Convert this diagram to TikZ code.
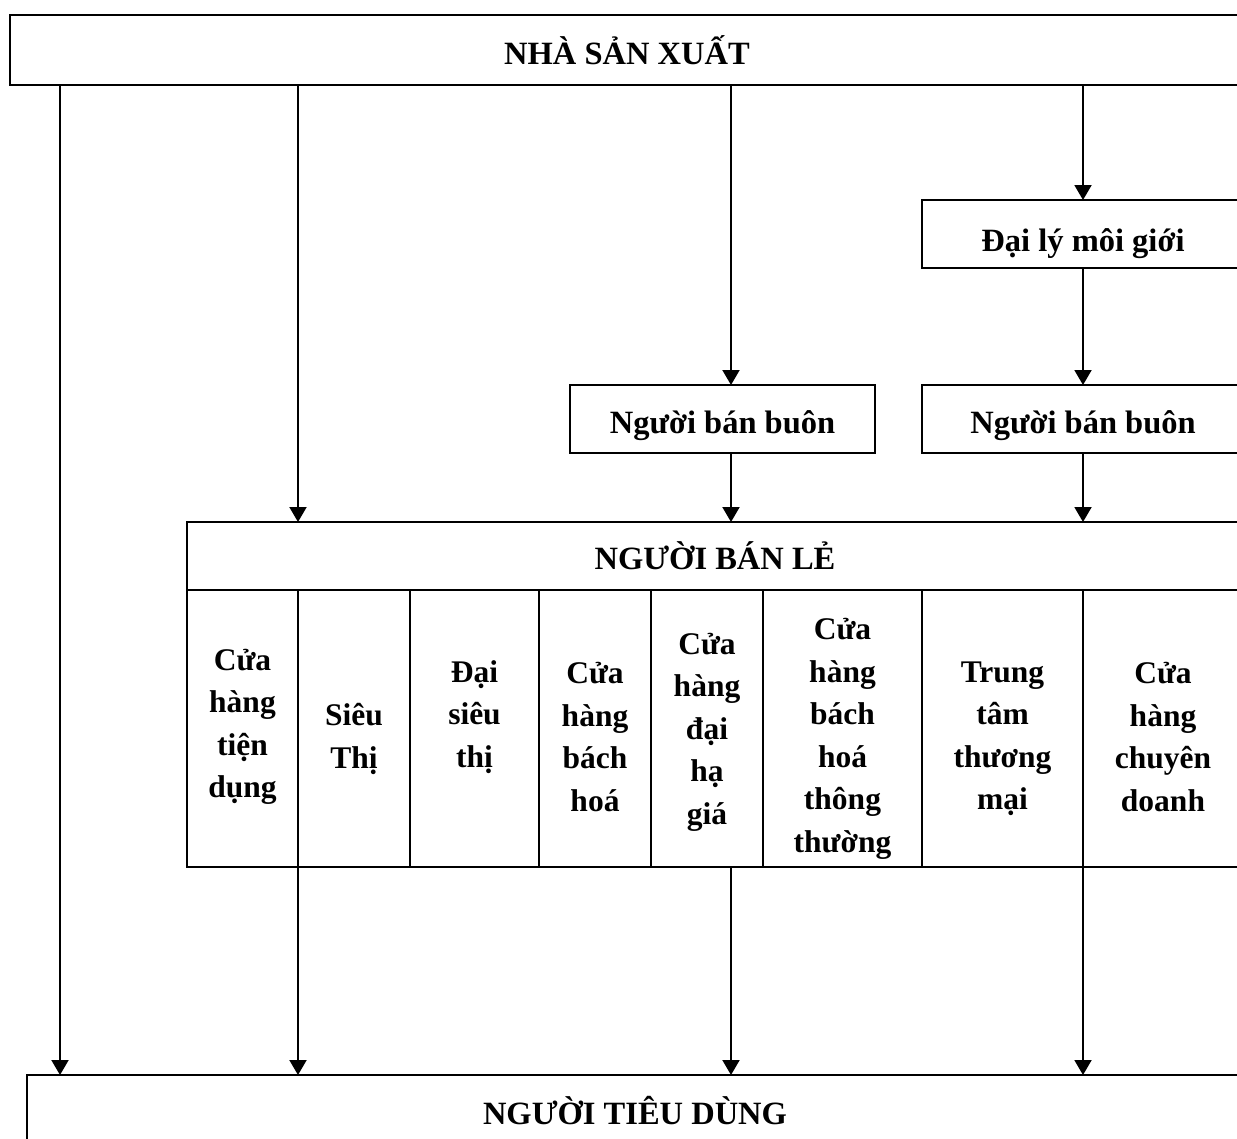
\documentclass[tikz,border=0pt]{standalone}
\usepackage{fontspec}
\setmainfont{Liberation Serif}
\usetikzlibrary{arrows.meta}
\begin{document}
\begin{tikzpicture}[x=1pt,y=-1pt,
  box/.style={draw, line width=2pt, anchor=north west, inner sep=0pt, outer sep=0pt,
    font=\fontsize{32.5}{42.5}\selectfont\bfseries},
  cellbox/.style={draw, line width=2pt, anchor=north west, inner sep=0pt, outer sep=0pt,
    minimum height=277pt},
  celltext/.style={inner sep=0pt, align=center, font=\fontsize{31.5}{42.5}\selectfont\bfseries},
  arr/.style={line width=2pt, -{Triangle[length=15pt,width=17pt]}}]
\useasboundingbox (0,0) rectangle (1237,1138);
\fill[white] (0,0) rectangle (1237,1138);
\clip (0,0) rectangle (1237,1138);
% boxes
\node[box, minimum width=1234pt, minimum height=70pt] (prod) at (10,15) {NHÀ SẢN XUẤT};
\node[box, minimum width=322pt, minimum height=68pt, text height=36pt, text depth=1pt] (broker) at (922,200) {Đại lý môi giới};
\node[box, minimum width=305pt, minimum height=68pt, text height=31pt, text depth=2pt] (ws1) at (570,385) {Người bán buôn};
\node[box, minimum width=322pt, minimum height=68pt, text height=31pt, text depth=2pt] (ws2) at (922,385) {Người bán buôn};
\node[box, minimum width=1056pt, minimum height=68pt] (retail) at (187,522) {NGƯỜI BÁN LẺ};
\node[box, minimum width=1216pt, minimum height=72pt] (cons) at (27,1075) {NGƯỜI TIÊU DÙNG};
% cells
\node[cellbox, minimum width=111pt] (c1) at (187,590) {};
\node[cellbox, minimum width=112pt] (c2) at (298,590) {};
\node[cellbox, minimum width=129pt] (c3) at (410,590) {};
\node[cellbox, minimum width=112pt] (c4) at (539,590) {};
\node[cellbox, minimum width=112pt] (c5) at (651,590) {};
\node[cellbox, minimum width=159pt] (c6) at (763,590) {};
\node[cellbox, minimum width=161pt] (c7) at (922,590) {};
\node[cellbox, minimum width=161pt] (c8) at (1083,590) {};
\node[celltext] (t1) at (242.5,727) {Cửa\\hàng\\tiện\\dụng};
\node[celltext] (t2) at (354,739) {Siêu\\Thị};
\node[celltext] (t3) at (474.5,717) {Đại\\siêu\\thị};
\node[celltext] (t4) at (595,737) {Cửa\\hàng\\bách\\hoá};
\node[celltext] (t5) at (707,732) {Cửa\\hàng\\đại\\hạ\\giá};
\node[celltext] (t6) at (842.5,739) {Cửa\\hàng\\bách\\hoá\\thông\\thường};
\node[celltext] (t7) at (1002.5,739) {Trung\\tâm\\thương\\mại};
\node[celltext] (t8) at (1163,737) {Cửa\\hàng\\chuyên\\doanh};
% x positions of connectors
\coordinate (xa) at (60,0);
\coordinate (xb) at (298,0);
\coordinate (xc) at (731,0);
\coordinate (xd) at (1083,0);
% connectors
\draw[arr] (xa |- prod.south) -- (xa |- cons.north);
\draw[arr] (xb |- prod.south) -- (xb |- retail.north);
\draw[arr] (xc |- prod.south) -- (xc |- ws1.north);
\draw[arr] (xd |- prod.south) -- (xd |- broker.north);
\draw[arr] (xd |- broker.south) -- (xd |- ws2.north);
\draw[arr] (xc |- ws1.south) -- (xc |- retail.north);
\draw[arr] (xd |- ws2.south) -- (xd |- retail.north);
\draw[arr] (xb |- c2.south) -- (xb |- cons.north);
\draw[arr] (xc |- c5.south) -- (xc |- cons.north);
\draw[arr] (xd |- c8.south) -- (xd |- cons.north);
\end{tikzpicture}
\end{document}
